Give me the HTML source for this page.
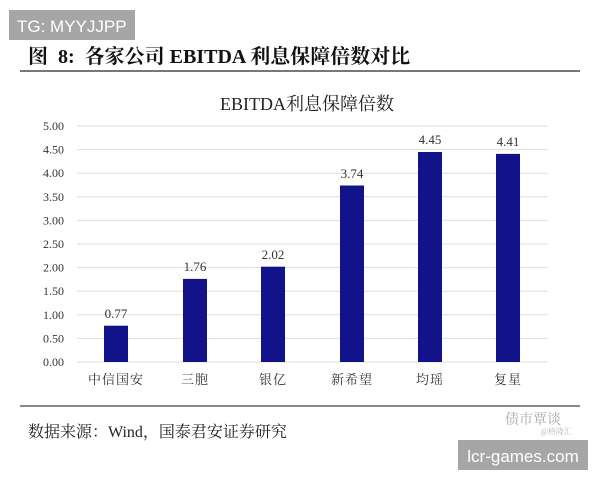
<!DOCTYPE html>
<html><head><meta charset="utf-8"><style>
body{margin:0;width:600px;height:480px;background:#fff;overflow:hidden;position:relative;font-family:"Liberation Serif","Noto Serif CJK SC",serif}
</style></head><body>
<svg width="600" height="480" style="position:absolute;left:0;top:0">
<rect x="9" y="10" width="126" height="30" fill="#a6a6a6"/>
<text x="17" y="32" font-family="Liberation Sans,sans-serif" font-size="17" fill="#fff">TG: MYYJJPP</text>
<text x="28" y="63" font-size="20" font-weight="bold" fill="#111" font-family="Liberation Serif,Noto Serif CJK SC,serif" xml:space="preserve">图  8:  各家公司 EBITDA 利息保障倍数对比</text>
<line x1="20" y1="71" x2="580" y2="71" stroke="#777" stroke-width="2"/>
<text x="307" y="110" font-size="18" text-anchor="middle" fill="#222">EBITDA利息保障倍数</text>
<g stroke="#ddd" stroke-width="1">
<line x1="77" y1="126" x2="548" y2="126"/><line x1="77" y1="149.6" x2="548" y2="149.6"/><line x1="77" y1="173.2" x2="548" y2="173.2"/><line x1="77" y1="196.8" x2="548" y2="196.8"/><line x1="77" y1="220.4" x2="548" y2="220.4"/><line x1="77" y1="244" x2="548" y2="244"/><line x1="77" y1="267.6" x2="548" y2="267.6"/><line x1="77" y1="291.2" x2="548" y2="291.2"/><line x1="77" y1="314.8" x2="548" y2="314.8"/><line x1="77" y1="338.4" x2="548" y2="338.4"/><line x1="77" y1="362" x2="548" y2="362"/>
</g>
<g font-size="12" fill="#333" text-anchor="end">
<text x="64" y="130">5.00</text><text x="64" y="153.6">4.50</text><text x="64" y="177.2">4.00</text><text x="64" y="200.8">3.50</text><text x="64" y="224.4">3.00</text><text x="64" y="248">2.50</text><text x="64" y="271.6">2.00</text><text x="64" y="295.2">1.50</text><text x="64" y="318.8">1.00</text><text x="64" y="342.4">0.50</text><text x="64" y="366">0.00</text>
</g>
<g fill="#12128a">
<rect x="104" y="325.7" width="24" height="36.3"/>
<rect x="183" y="278.9" width="24" height="83.1"/>
<rect x="261" y="266.7" width="24" height="95.3"/>
<rect x="340" y="185.5" width="24" height="176.5"/>
<rect x="418" y="152" width="24" height="210"/>
<rect x="496" y="153.9" width="24" height="208.1"/>
</g>
<g font-size="13" fill="#333" text-anchor="middle">
<text x="116" y="318">0.77</text><text x="195" y="271">1.76</text><text x="273" y="259">2.02</text><text x="352" y="178">3.74</text><text x="430" y="144">4.45</text><text x="508" y="146">4.41</text>
</g>
<g font-size="13" fill="#333" text-anchor="middle" letter-spacing="1">
<text x="116" y="384">中信国安</text><text x="195" y="384">三胞</text><text x="273" y="384">银亿</text><text x="352" y="384">新希望</text><text x="430" y="384">均瑶</text><text x="508" y="384">复星</text>
</g>
<line x1="20" y1="406" x2="580" y2="406" stroke="#888" stroke-width="2"/>
<text x="28" y="437" font-size="16" fill="#222">数据来源：Wind，国泰君安证券研究</text>
<text x="505" y="424" font-size="14" fill="#aaa">债市覃谈</text>
<text x="572" y="434" font-size="8" fill="#bbb" text-anchor="end">@格隆汇</text>
<rect x="458" y="440" width="130" height="30" fill="#a6a6a6"/>
<text x="523" y="462" font-family="Liberation Sans,sans-serif" font-size="17" fill="#fff" text-anchor="middle">lcr-games.com</text>
</svg>
</body></html>
